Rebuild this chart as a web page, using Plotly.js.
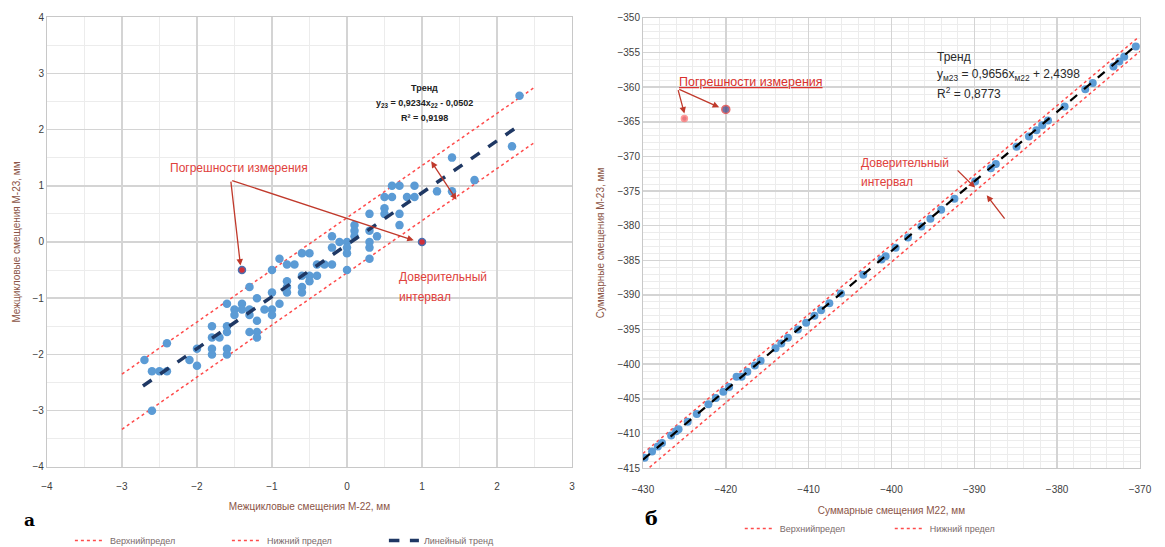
<!DOCTYPE html>
<html><head><meta charset="utf-8">
<script src="https://cdn.plot.ly/plotly-3.0.1.min.js"></script>
<style>html,body{margin:0;padding:0;background:#fff}#chart{width:1165px;height:547px}</style>
</head><body><div id="chart"></div>
<script>
// ---- Panel а: inter-cycle displacements ----
const xM22 = [2.3,2.2,1.7,1.4,1.4,1.2,0.9,0.9,0.8,0.6,0.7,0.5,0.6,0.5,0.5,0.7,0.7,0.3,0.4,0.3,0.3,0.3,0.3,0.1,0.1,0.1,0,0,0,0,-0.1,-0.2,-0.2,-0.2,-0.3,-0.4,-0.4,-0.5,-0.5,-0.6,-0.6,-0.6,-0.6,-0.5,-0.8,-0.7,-0.9,-0.8,-0.8,-0.8,-1,-1,-0.9,-1,-1,-1.1,-1.2,-1.2,-1.2,-1.2,-1.3,-1.3,-1.3,-1.3,-1.4,-1.4,-1.5,-1.5,-1.6,-1.6,-1.6,-1.6,-1.6,-1.7,-1.8,-1.8,-1.8,-1.8,-2.0,-2.0,-2.1,-2.4,-2.4,-2.5,-2.6,-2.7,-2.6];
const yM23 = [2.6,1.7,1.1,1.5,0.9,0.9,1.0,0.8,0.8,1.0,1.0,0.8,0.8,0.6,0.5,0.5,0.3,0.5,0.1,0.2,0.0,-0.1,-0.3,0.3,0.2,0.1,0,-0.1,-0.2,-0.5,0,0.1,-0.1,-0.4,-0.4,-0.4,-0.6,-0.6,-0.7,-0.6,-0.8,-0.9,-0.2,-0.2,-0.4,-0.4,-0.3,-0.7,-0.8,-0.9,-0.5,-0.9,-1.1,-1.2,-1.3,-1.2,-1.0,-1.4,-1.6,-1.7,-0.8,-1.2,-1.3,-1.6,-1.1,-1.2,-1.2,-1.3,-1.1,-1.5,-1.6,-1.9,-2.0,-1.7,-1.5,-1.7,-1.9,-2.0,-1.9,-2.2,-2.1,-1.8,-2.3,-2.3,-2.3,-2.1,-3.0];
const errX_a = [-1.4, 1];
const errY_a = [-0.5, 0];
const trendX_a = [-2.72, 2.24];
const trendY_a = [-2.56, 2.02];
const limX_a = [-3, 2.5];
const upperY_a = [-2.35, 2.75];
const lowerY_a = [-3.33, 1.77];

// ---- Panel б: cumulative displacements ----
const xSum22 = [-370.5,-371.9,-372.5,-373.2,-375.7,-376.6,-379.1,-381.1,-381.8,-382.5,-383.4,-384.9,-387.4,-388.0,-389.9,-392.4,-394.0,-395.3,-396.4,-398.0,-399.5,-400.7,-401.2,-403.4,-406.1,-407.5,-408.5,-409.3,-410.3,-411.3,-412.5,-413.3,-414.0,-415.8,-416.5,-417.4,-418.7,-418.1,-419.6,-420.3,-421.2,-422.1,-423.5,-424.6,-425.7,-426.0,-426.6,-427.7,-428.2,-428.9,-429.8];
const ySum23 = [-354.1,-355.6,-356.3,-357.0,-359.4,-360.3,-362.8,-364.8,-365.5,-366.2,-367.1,-368.6,-371.1,-371.7,-373.6,-376.1,-377.7,-379.0,-380.1,-381.7,-383.2,-384.4,-384.9,-387.1,-389.8,-391.2,-392.2,-393.0,-394.0,-395.0,-396.2,-397.0,-397.7,-399.5,-400.2,-401.1,-401.8,-401.8,-403.3,-404.0,-404.9,-405.8,-407.2,-408.3,-409.4,-409.7,-410.3,-411.4,-411.9,-412.6,-413.5];
const errX_b = [-425.0, -420.0];
const errY_b = [-364.5, -363.2];
const trendX_b = [-430, -370.6];
const trendY_b = [-413.8, -354.1];
const upperX_b = [-430, -370.3];
const upperY_b = [-412.9, -352.9];
const lowerX_b = [-429.2, -370];
const lowerY_b = [-414.9, -354.8];

const legendNames = ['Верхнийпредел', 'Нижний предел', 'Линейный тренд'];

const RED = '#ff4b4b', BLUE = '#5b9bd5', NAVY = '#1f3864';
const FONT = 'Liberation Sans, Arial, sans-serif';

const traces = [
  {x: limX_a, y: upperY_a, xaxis:'x', yaxis:'y', mode:'lines', name: legendNames[0], legend:'legend', line:{color:RED, dash:'dot', width:1.5}},
  {x: limX_a, y: lowerY_a, xaxis:'x', yaxis:'y', mode:'lines', name: legendNames[1], legend:'legend', line:{color:RED, dash:'dot', width:1.5}},
  {x: xM22, y: yM23, xaxis:'x', yaxis:'y', mode:'markers', showlegend:false, marker:{color:BLUE, size:8.5}},
  {x: errX_a, y: errY_a, xaxis:'x', yaxis:'y', mode:'markers', showlegend:false, marker:{color:'#d0303a', size:7, line:{color:'#4a6fb0', width:1.5}}},
  {x: trendX_a, y: trendY_a, xaxis:'x', yaxis:'y', mode:'lines', name: legendNames[2], legend:'legend', line:{color:NAVY, dash:'dash', width:3.5}},

  {x: upperX_b, y: upperY_b, xaxis:'x2', yaxis:'y2', mode:'lines', name: legendNames[0], legend:'legend2', line:{color:RED, dash:'dot', width:1.5}},
  {x: lowerX_b, y: lowerY_b, xaxis:'x2', yaxis:'y2', mode:'lines', name: legendNames[1], legend:'legend2', line:{color:RED, dash:'dot', width:1.5}},
  {x: xSum22, y: ySum23, xaxis:'x2', yaxis:'y2', mode:'markers', showlegend:false, marker:{color:BLUE, size:8}},
  {x: errX_b, y: errY_b, xaxis:'x2', yaxis:'y2', mode:'markers', showlegend:false, marker:{color:['#e0404a','#3a3a7a'], size:[6,8], line:{color:['#ff7070','#e03030'], width:1.5}}},
  {x: trendX_b, y: trendY_b, xaxis:'x2', yaxis:'y2', mode:'lines', showlegend:false, line:{color:'#000', dash:'dash', width:2.2}}
];

const axisTitleFont = {family: FONT, size: 10, color: '#8b5446'};
const tickFont = {family: FONT, size: 10, color: '#404040'};

const layout = {
  width: 1165, height: 547,
  margin: {l:0, r:0, t:0, b:0, autoexpand:false},
  paper_bgcolor: '#fff', plot_bgcolor: '#fff',
  font: {family: FONT},
  xaxis: {domain:[0.0403, 0.4910], range:[-4,3], dtick:1, tick0:0, gridcolor:'#d4d4d4', gridwidth:1.5, zeroline:false,
          showline:true, linecolor:'#c8c8c8', mirror:true, ticks:'', tickfont:tickFont, ticklabelstandoff:10, automargin:false,
          minor:{dtick:0.5, tick0:0, showgrid:true, gridcolor:'#ececec', gridwidth:1},
          title:{text:'Межцикловые смещения М-22, мм', font:axisTitleFont, standoff:12}},
  yaxis: {domain:[0.1463, 0.9689], range:[-4,4], dtick:1, tick0:0, gridcolor:'#d4d4d4', gridwidth:1.5, zeroline:false,
          showline:true, linecolor:'#c8c8c8', mirror:true, ticks:'', tickfont:tickFont, automargin:false,
          minor:{dtick:0.5, tick0:0, showgrid:true, gridcolor:'#ececec', gridwidth:1},
          title:{text:'Межцикловые смещения М-23, мм', font:axisTitleFont, standoff:10}},
  xaxis2: {domain:[0.5519, 0.9785], range:[-430,-370], dtick:10, tick0:0, gridcolor:'#d4d4d4', gridwidth:1.5, zeroline:false,
          showline:true, linecolor:'#c8c8c8', mirror:true, ticks:'', tickfont:tickFont, anchor:'y2', ticklabelstandoff:12, automargin:false,
          minor:{dtick:2, tick0:0, showgrid:true, gridcolor:'#ececec', gridwidth:1},
          title:{text:'Суммарные смещения М22, мм', font:axisTitleFont, standoff:12}},
  yaxis2: {domain:[0.1444, 0.9671], range:[-415,-350], dtick:5, tick0:0, gridcolor:'#d4d4d4', gridwidth:1.5, zeroline:false,
          showline:true, linecolor:'#c8c8c8', mirror:true, ticks:'', tickfont:tickFont, anchor:'x2', automargin:false,
          minor:{dtick:1, tick0:0, showgrid:true, gridcolor:'#ececec', gridwidth:1},
          title:{text:'Суммарные смещения М-23, мм', font:axisTitleFont, standoff:10}},
  legend: {orientation:'h', x:0.06, y:0.012, xanchor:'left', yanchor:'middle', bgcolor:'rgba(0,0,0,0)',
           entrywidth:112, entrywidthmode:'pixels', font:{family:FONT, size:9, color:'#7a6a6a'}},
  legend2: {orientation:'h', x:0.635, y:0.034, xanchor:'left', yanchor:'middle', bgcolor:'rgba(0,0,0,0)',
           entrywidth:105, entrywidthmode:'pixels', font:{family:FONT, size:9, color:'#7a6a6a'}},
  annotations: [
    {xref:'paper', yref:'paper', x:0.019, y:0.028, text:'<b>а</b>', showarrow:false, font:{family:'DejaVu Serif, serif', size:17, color:'#000'}},
    {xref:'paper', yref:'paper', x:0.559, y:0.030, text:'<b>б</b>', showarrow:false, font:{family:'DejaVu Serif, serif', size:19, color:'#000'}},

    // panel а texts
    {xref:'x', yref:'y', x:1.03, y:2.74, text:'<b>Тренд</b>', showarrow:false, font:{family:FONT, size:9, color:'#222'}},
    {xref:'x', yref:'y', x:1.03, y:2.47, text:'<b>y<sub>23</sub> = 0,9234x<sub>22</sub> - 0,0502</b>', showarrow:false, font:{family:FONT, size:9, color:'#222'}},
    {xref:'x', yref:'y', x:1.03, y:2.2, text:'<b>R² = 0,9198</b>', showarrow:false, font:{family:FONT, size:9, color:'#222'}},
    {xref:'x', yref:'y', x:-1.44, y:1.32, text:'Погрешности измерения', showarrow:false, font:{family:FONT, size:12, color:'#e0413c'}},
    {xref:'x', yref:'y', x:0.67, y:-0.62, xanchor:'left', text:'Доверительный', showarrow:false, font:{family:FONT, size:12, color:'#e0413c'}},
    {xref:'x', yref:'y', x:0.67, y:-0.98, xanchor:'left', text:'интервал', showarrow:false, font:{family:FONT, size:12, color:'#e0413c'}},
    {xref:'x', yref:'y', axref:'x', ayref:'y', x:-1.42, y:-0.42, ax:-1.55, ay:1.1, text:'', showarrow:true, arrowhead:2, arrowsize:1, arrowwidth:1.3, arrowcolor:'#c0392b'},
    {xref:'x', yref:'y', axref:'x', ayref:'y', x:0.89, y:0.03, ax:-1.55, ay:1.1, text:'', showarrow:true, arrowhead:2, arrowsize:1, arrowwidth:1.3, arrowcolor:'#c0392b'},
    {xref:'x', yref:'y', axref:'x', ayref:'y', x:1.46, y:0.75, ax:1.11, ay:1.46, text:'', showarrow:true, arrowhead:2, startarrowhead:2, arrowside:'end+start', arrowsize:1, arrowwidth:1.3, arrowcolor:'#c0392b'},

    // panel б texts
    {xref:'x2', yref:'y2', x:-394.7, y:-355.6, xanchor:'left', text:'Тренд', showarrow:false, font:{family:FONT, size:12, color:'#2a2a2a'}},
    {xref:'x2', yref:'y2', x:-394.7, y:-358.2, xanchor:'left', text:'y<sub>м23</sub> = 0,9656x<sub>м22</sub> + 2,4398', showarrow:false, font:{family:FONT, size:12, color:'#2a2a2a'}},
    {xref:'x2', yref:'y2', x:-394.7, y:-360.8, xanchor:'left', text:'R<sup>2</sup> = 0,8773', showarrow:false, font:{family:FONT, size:12, color:'#2a2a2a'}},
    {xref:'x2', yref:'y2', x:-425.9, y:-359.2, xanchor:'left', text:'<u>Погрешности измерения</u>', showarrow:false, font:{family:FONT, size:12.5, color:'#d9302c'}},
    {xref:'x2', yref:'y2', x:-403.9, y:-371.0, xanchor:'left', text:'Доверительный', showarrow:false, font:{family:FONT, size:12, color:'#e0413c'}},
    {xref:'x2', yref:'y2', x:-403.9, y:-373.7, xanchor:'left', text:'интервал', showarrow:false, font:{family:FONT, size:12, color:'#e0413c'}},
    {xref:'x2', yref:'y2', axref:'x2', ayref:'y2', x:-425.0, y:-363.8, ax:-425.8, ay:-360.2, text:'', showarrow:true, arrowhead:2, arrowsize:1, arrowwidth:1.3, arrowcolor:'#c0392b'},
    {xref:'x2', yref:'y2', axref:'x2', ayref:'y2', x:-420.8, y:-362.9, ax:-425.8, ay:-360.2, text:'', showarrow:true, arrowhead:2, arrowsize:1, arrowwidth:1.3, arrowcolor:'#c0392b'},
    {xref:'x2', yref:'y2', axref:'x2', ayref:'y2', x:-389.9, y:-374.5, ax:-392.2, ay:-371.8, text:'', showarrow:true, arrowhead:2, arrowsize:1, arrowwidth:1.3, arrowcolor:'#c0392b'},
    {xref:'x2', yref:'y2', axref:'x2', ayref:'y2', x:-388.5, y:-375.6, ax:-386.2, ay:-379.2, text:'', showarrow:true, arrowhead:2, arrowsize:1, arrowwidth:1.3, arrowcolor:'#c0392b'}
  ]
};

Plotly.newPlot('chart', traces, layout, {displayModeBar:false, staticPlot:true});
</script>
</body></html>
